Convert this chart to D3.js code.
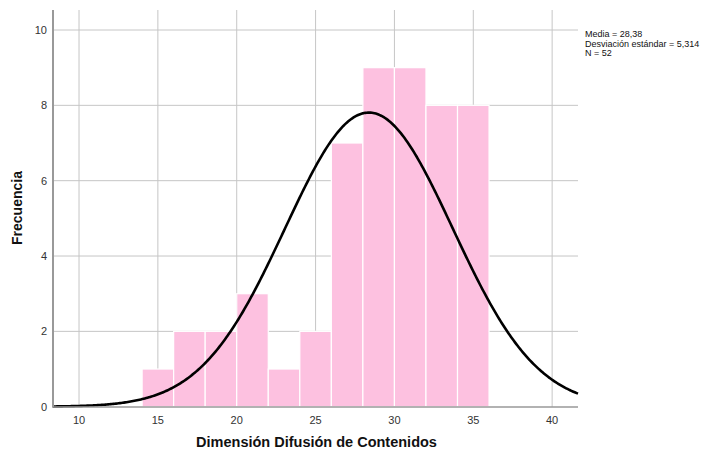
<!DOCTYPE html>
<html>
<head>
<meta charset="utf-8">
<script src="https://cdn.jsdelivr.net/npm/d3@7"></script>
<style>
  html, body { margin: 0; padding: 0; background: #fff; }
  svg { display: block; font-family: Arial, "Liberation Sans", sans-serif; }
</style>
</head>
<body>
<svg id="chart" width="714" height="452"></svg>
<script>
// Histogram bins (lower edge, width 2) and their counts
const binStarts = [14, 16, 18, 20, 22, 24, 26, 28, 30, 32, 34];
const binWidth = 2;
const counts = [1, 2, 2, 3, 1, 2, 7, 9, 9, 8, 8];

// Summary statistics
const mean = 28.38;
const stdDev = 5.314;
const n = 52;

const xTicks = [10, 15, 20, 25, 30, 35, 40];
const yTicks = [0, 2, 4, 6, 8, 10];
const statLines = ["Media = 28,38", "Desviación estándar = 5,314", "N = 52"];

const svg = d3.select("#chart");
const plot = { left: 53, right: 578, top: 10, bottom: 407 };

const x = d3.scaleLinear().domain([8.35, 41.64]).range([plot.left, plot.right]);
const y = d3.scaleLinear().domain([0, 10]).range([406.7, 30]);

// Grid lines
const grid = svg.append("g");
grid.selectAll("line.h").data(yTicks.filter(d => d > 0)).join("line")
  .attr("x1", plot.left).attr("x2", plot.right)
  .attr("y1", d => y(d)).attr("y2", d => y(d))
  .attr("stroke", "#c6c6c6").attr("stroke-width", 1);
grid.selectAll("line.v").data(xTicks).join("line")
  .attr("x1", d => x(d)).attr("x2", d => x(d))
  .attr("y1", plot.top).attr("y2", plot.bottom)
  .attr("stroke", "#c6c6c6").attr("stroke-width", 1);

// Bars
const bins = binStarts.map((s, i) => ({ x0: s, x1: s + binWidth, count: counts[i] }));
svg.append("g").selectAll("rect").data(bins).join("rect")
  .attr("x", d => x(d.x0))
  .attr("width", d => x(d.x1) - x(d.x0))
  .attr("y", d => y(d.count))
  .attr("height", d => y(0) - y(d.count))
  .attr("fill", "#fdc1e0")
  .attr("stroke", "#ffffff")
  .attr("stroke-width", 1.2);

// Normal curve scaled to counts
const scale = n * binWidth;
const pts = d3.range(0, 401).map(i => {
  const v = 8.35 + (41.64 - 8.35) * i / 400;
  const dens = Math.exp(-0.5 * Math.pow((v - mean) / stdDev, 2)) / (stdDev * Math.sqrt(2 * Math.PI));
  return [v, dens * scale];
});
svg.append("path")
  .datum(pts)
  .attr("d", d3.line().x(d => x(d[0])).y(d => y(d[1])))
  .attr("fill", "none")
  .attr("stroke", "#000")
  .attr("stroke-width", 2.6);

// Axes lines
svg.append("line")
  .attr("x1", plot.left).attr("x2", plot.left)
  .attr("y1", plot.top).attr("y2", plot.bottom)
  .attr("stroke", "#999").attr("stroke-width", 2);
svg.append("line")
  .attr("x1", plot.left - 1).attr("x2", plot.right)
  .attr("y1", plot.bottom).attr("y2", plot.bottom)
  .attr("stroke", "#999").attr("stroke-width", 1.5);

// Tick labels
svg.append("g").selectAll("text").data(yTicks).join("text")
  .attr("x", 47).attr("y", d => y(d) + 4)
  .attr("text-anchor", "end")
  .attr("font-size", 11).attr("fill", "#333")
  .text(d => d);
svg.append("g").selectAll("text").data(xTicks).join("text")
  .attr("x", d => x(d)).attr("y", 424)
  .attr("text-anchor", "middle")
  .attr("font-size", 11).attr("fill", "#333")
  .text(d => d);

// Axis titles
svg.append("text")
  .attr("x", (plot.left + plot.right) / 2 + 1).attr("y", 447)
  .attr("text-anchor", "middle")
  .attr("font-size", 14.5).attr("font-weight", "bold").attr("fill", "#111")
  .text("Dimensión Difusión de Contenidos");
svg.append("text")
  .attr("transform", "translate(22,208) rotate(-90)")
  .attr("text-anchor", "middle")
  .attr("font-size", 14).attr("font-weight", "bold").attr("fill", "#111")
  .text("Frecuencia");

// Statistics box
svg.append("g").selectAll("text").data(statLines).join("text")
  .attr("x", 585).attr("y", (d, i) => 37 + i * 9.5)
  .attr("font-size", 9).attr("fill", "#111")
  .text(d => d);
</script>
</body>
</html>
